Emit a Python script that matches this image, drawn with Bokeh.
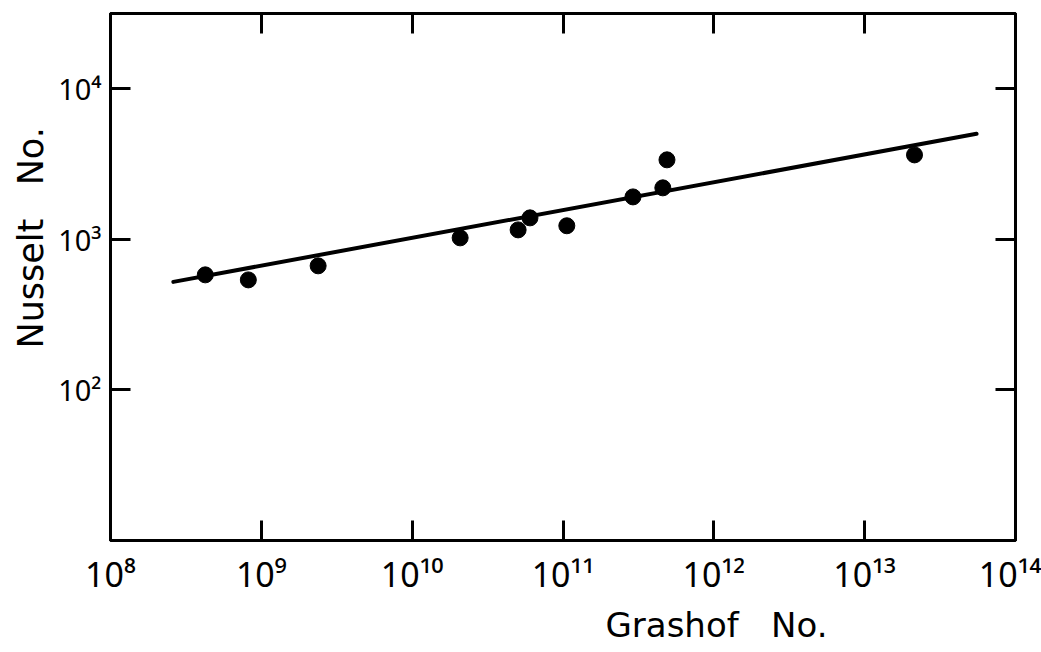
from bokeh.plotting import figure
from bokeh.models import Range1d, LogAxis, FixedTicker, Title
from bokeh.embed import file_html
from bokeh.resources import INLINE

# ---- data ----
grashof = [4.25e8, 8.2e8, 2.38e9, 2.08e10, 5.04e10, 6.04e10, 1.06e11, 2.91e11, 4.59e11, 4.89e11, 2.14e13]
nusselt = [581, 538, 667, 1023, 1156, 1389, 1231, 1914, 2198, 3374, 3638]
fit_grashof = [2.61e8, 5.52e13]
fit_nusselt = [522, 5023]

x_exponents = [8, 9, 10, 11, 12, 13, 14]
y_exponents = [2, 3, 4]
NB = "\u00a0"
x_title = "Grashof" + NB * 3 + "No."
y_title = "Nusselt" + NB * 3 + "No."

SUP = str.maketrans("0123456789", "⁰¹²³⁴⁵⁶⁷⁸⁹")
def pow_label(e):
    return "10" + str(e).translate(SUP)

x_ticks = [10.0 ** e for e in x_exponents]
y_ticks = [10.0 ** e for e in y_exponents]

W, H = 1041, 652
p = figure(width=W, height=H, x_axis_type="log", y_axis_type="log",
           x_range=Range1d(1e8, 1e14), y_range=Range1d(10, 10 ** 4.5),
           output_backend="svg", toolbar_location=None,
           min_border_left=110, min_border_right=26, min_border_top=13, min_border_bottom=112)
p.xgrid.visible = False
p.ygrid.visible = False
p.outline_line_color = "black"
p.outline_line_width = 3
p.background_fill_color = "white"
p.border_fill_color = "white"

tick_font = "Noto Sans"

def style_axis(ax, ticks, labels, size, standoff=8):
    ax.ticker = FixedTicker(ticks=ticks)
    ax.minor_tick_line_color = None
    ax.major_tick_in = 20
    ax.major_tick_out = 0
    ax.major_tick_line_width = 3
    ax.major_tick_line_color = "black"
    ax.axis_line_width = 3
    ax.axis_line_color = "black"
    if labels:
        ax.major_label_overrides = {t: pow_label(e) for t, e in labels}
        ax.major_label_text_font = tick_font
        ax.major_label_text_font_size = size
        ax.major_label_text_color = "black"
        ax.major_label_standoff = standoff
    else:
        ax.major_label_text_font_size = "0px"
        ax.major_label_text_color = None

style_axis(p.xaxis[0], x_ticks, list(zip(x_ticks, x_exponents)), "34px", 10)
style_axis(p.yaxis[0], y_ticks, list(zip(y_ticks, y_exponents)), "29px", 9)

top = LogAxis()
style_axis(top, x_ticks, None, None)
p.add_layout(top, "above")
right = LogAxis()
style_axis(right, y_ticks, None, None)
p.add_layout(right, "right")

p.line(fit_grashof, fit_nusselt, line_color="black", line_width=4, line_cap="round")
p.scatter(grashof, nusselt, size=16, marker="circle", fill_color="black", line_color="black")

p.add_layout(Title(text=x_title, align="left", offset=495, standoff=6,
                   text_font="DejaVu Sans", text_font_size="34px",
                   text_font_style="normal", text_color="black"), "below")
p.add_layout(Title(text=y_title, align="left", offset=192, standoff=10,
                   text_font="DejaVu Sans", text_font_size="35px",
                   text_font_style="normal", text_color="black"), "left")

open("out.html", "w").write(file_html(p, INLINE))
